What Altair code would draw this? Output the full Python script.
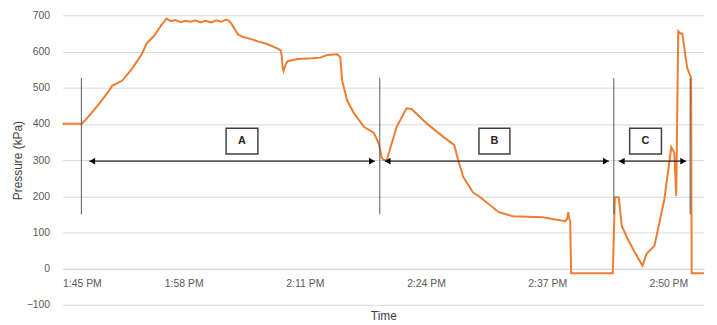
import altair as alt
import pandas as pd

# time in minutes after 1:45 PM, pressure in kPa
minutes = [0.00, 2.02, 2.13, 2.87, 3.94, 5.00, 5.32, 6.38, 7.45, 8.51, 9.04, 9.79, 10.64, 11.17,
           11.60, 12.13, 12.66, 13.19, 13.72, 14.26, 14.79, 15.32, 15.96, 16.49, 17.02, 17.55,
           17.87, 18.09, 18.51, 18.83, 19.36, 19.89, 20.96, 22.02, 23.09, 23.40, 23.51, 23.62,
           23.72, 23.94, 24.15, 25.21, 26.81, 27.66, 28.40, 29.47, 29.79, 30.00, 30.53, 31.28,
           32.34, 33.40, 33.94, 34.26, 34.47, 34.79, 35.85, 36.91, 37.45, 39.04, 40.85, 42.02,
           42.45, 42.98, 44.04, 44.68, 46.81, 48.30, 51.49, 53.94, 54.15, 54.26, 54.36, 54.47,
           54.57, 59.04, 59.26, 59.68, 60.00, 60.64, 61.38, 62.23, 62.66, 63.51, 64.57, 65.32,
           65.64, 65.85, 65.96, 66.06, 66.28, 66.49, 67.02, 67.45, 67.50, 68.83]
pressure = [400, 400, 401, 423, 456, 492, 505, 519, 552, 593, 623, 642, 674, 691,
            684, 687, 681, 685, 682, 686, 680, 685, 680, 686, 682, 688,
            684, 678, 660, 647, 640, 637, 628, 620, 608, 603, 590, 555,
            546, 565, 573, 579, 581, 583, 590, 592, 585, 520, 465, 429,
            392, 375, 345, 305, 300, 300, 392, 443, 441, 402, 364, 342,
            300, 254, 210, 200, 156, 145, 142, 131, 138, 156, 140, 131,
            -13, -13, 197, 197, 118, 82, 46, 8, 41, 63, 191, 336,
            320, 200, 445, 656, 650, 650, 555, 527, -13, -13]

tick_values = [0, 13, 26, 39, 52, 65]
tick_labels = ["1:45 PM", "1:58 PM", "2:11 PM", "2:24 PM", "2:37 PM", "2:50 PM"]
y_ticks = [-100, 0, 100, 200, 300, 400, 500, 600, 700]

marker_minutes = [2.02, 34.04, 59.15, 67.34]
marker_low, marker_high = 150, 527

region_names = ["A", "B", "C"]
arrow_start = [2.87, 34.57, 59.68]
arrow_end = [33.51, 58.62, 66.91]
arrow_level = 297
box_left = [17.55, 44.68, 60.85]
box_right = [20.96, 48.00, 64.26]
box_bottom, box_top = 317, 388

x_domain = [0, 68.83]
y_domain = [-100, 700]

X_TITLE = "Time"
Y_TITLE = "Pressure (kPa)"

df = pd.DataFrame({"m": minutes, "p": pressure})
markers = pd.DataFrame({"m": marker_minutes, "lo": marker_low, "hi": marker_high})
arrows = pd.DataFrame({"name": region_names, "s": arrow_start, "e": arrow_end, "lvl": arrow_level})
boxes = pd.DataFrame({"name": region_names, "l": box_left, "r": box_right,
                      "b": box_bottom, "t": box_top})
boxes["cx"] = (boxes["l"] + boxes["r"]) / 2
boxes["cy"] = (boxes["b"] + boxes["t"]) / 2

label_expr = "[" + ",".join("'%s'" % t for t in tick_labels) + "][round(datum.value/13)]"

xs = alt.Scale(domain=x_domain, nice=False, zero=False)
ys = alt.Scale(domain=y_domain, nice=False, zero=False)

x_axis = alt.Axis(values=tick_values, labelExpr=label_expr, grid=False,
                  offset=-36.5, domainColor="#d9d9d9", ticks=False,
                  labelPadding=10, labelFontSize=10.5, labelColor="#595959",
                  labelFont="Liberation Sans", titleFont="Liberation Sans",
                  titleFontSize=12, titleFontWeight="normal", titleColor="#404040",
                  titlePadding=22, labelOverlap=False, title=X_TITLE)
y_axis = alt.Axis(values=y_ticks, domain=False, ticks=False, grid=True,
                  gridColor="#d9d9d9", gridWidth=1, labelPadding=13, labelFontSize=10.5,
                  labelColor="#595959", labelFont="Liberation Sans",
                  titleFont="Liberation Sans", titleFontSize=12, labelOverlap=False,
                  titleFontWeight="normal", titleColor="#404040", titlePadding=2,
                  title=Y_TITLE)


def X(f):
    return alt.X(f, type="quantitative", scale=xs, axis=x_axis)


def Y(f):
    return alt.Y(f, type="quantitative", scale=ys, axis=y_axis)


line = alt.Chart(df).mark_line(color="#ED7D31", strokeWidth=2).encode(
    x=X("m"), y=Y("p"), order="m:Q",
)

vrules = alt.Chart(markers).mark_rule(color="#595959", strokeWidth=1).encode(
    x=X("m"), y=Y("lo"), y2="hi:Q",
)

shafts = alt.Chart(arrows).mark_rule(color="#262626", strokeWidth=1.2).encode(
    x=X("s"), x2="e:Q", y=Y("lvl"),
)

heads_l = alt.Chart(arrows).mark_point(shape="triangle-left", filled=True, color="#000000",
                                       size=45, opacity=1, xOffset=3).encode(
    x=X("s"), y=Y("lvl"),
)
heads_r = alt.Chart(arrows).mark_point(shape="triangle-right", filled=True, color="#000000",
                                       size=45, opacity=1, xOffset=-3).encode(
    x=X("e"), y=Y("lvl"),
)

rects = alt.Chart(boxes).mark_rect(fill="white", stroke="#404040", strokeWidth=1.5).encode(
    x=X("l"), x2="r:Q", y=Y("b"), y2="t:Q",
)

labels = alt.Chart(boxes).mark_text(font="Liberation Sans", fontSize=11, fontWeight="bold",
                                    color="#262626").encode(
    x=X("cx"), y=Y("cy"), text="name:N",
)

chart = alt.layer(line, vrules, shafts, heads_l, heads_r, rects, labels).properties(
    width=647, height=292,
    background="white",
    autosize=alt.AutoSizeParams(type="none"),
    padding={"left": 55, "top": 6, "right": 5, "bottom": 19},
).configure_view(stroke=None)

chart.save("out.html", embed_options={"renderer": "svg", "actions": False})
